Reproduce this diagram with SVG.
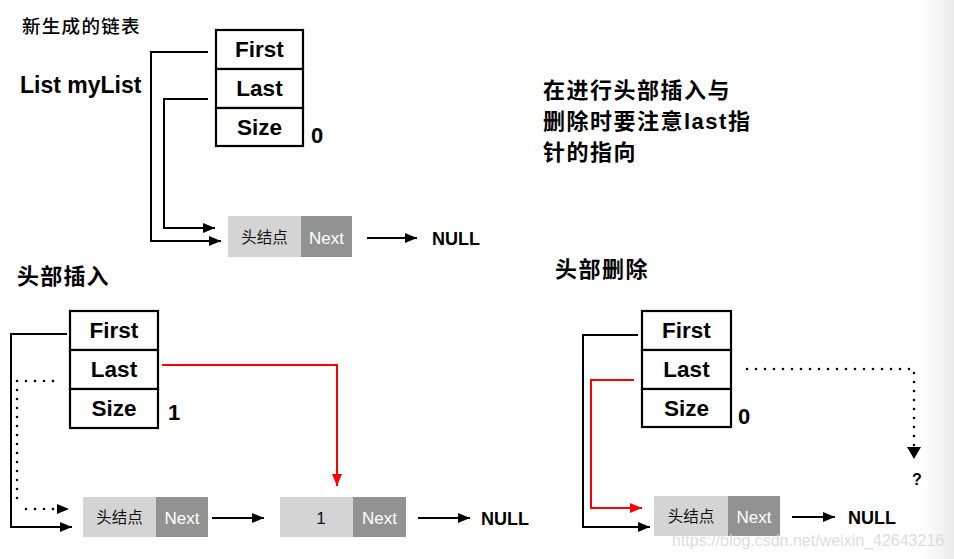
<svg xmlns="http://www.w3.org/2000/svg" width="954" height="559" viewBox="0 0 954 559">
<style>
.bg{fill:#ffffff}
.box{fill:#ffffff;stroke:#000;stroke-width:2.2}
.cell{font-family:"Liberation Sans",Arial,sans-serif;font-weight:bold;font-size:22.5px;fill:#000;text-anchor:middle}
.num{font-family:"Liberation Sans",Arial,sans-serif;font-weight:bold;font-size:22px;fill:#000}
.null{font-family:"Liberation Sans",Arial,sans-serif;font-weight:bold;font-size:18px;fill:#000}
.cjk{font-family:"Liberation Sans","Noto Sans CJK SC",sans-serif;font-weight:bold;fill:#000}
.light{fill:#d4d4d4}
.dark{fill:#929292}
.hd{font-family:"Noto Sans CJK SC","Noto Sans",sans-serif;font-size:15.5px;fill:#111;text-anchor:middle}
.nx{font-family:"Liberation Sans",Arial,sans-serif;font-size:17px;fill:#fff;text-anchor:middle}
.k{fill:none;stroke:#000;stroke-width:2}
.r{fill:none;stroke:#ff0000;stroke-width:2}
.dot{fill:none;stroke:#000;stroke-width:2.6;stroke-linecap:round;stroke-dasharray:0 9}
</style>
<defs>
<marker id="ah" viewBox="0 0 12 10" refX="12" refY="5" markerWidth="12" markerHeight="10" markerUnits="userSpaceOnUse" orient="auto"><path d="M0,0 L12,5 L0,10 Z" fill="#000"/></marker>
<marker id="ahr" viewBox="0 0 12 10" refX="12" refY="5" markerWidth="12" markerHeight="10" markerUnits="userSpaceOnUse" orient="auto"><path d="M0,0 L12,5 L0,10 Z" fill="#ff0000"/></marker>
<linearGradient id="edge" x1="0" y1="0" x2="1" y2="0"><stop offset="0" stop-color="#ffffff"/><stop offset="1" stop-color="#ebebeb"/></linearGradient>
</defs>
<rect class="bg" x="0" y="0" width="954" height="559"/>
<rect x="922" y="0" width="32" height="559" fill="url(#edge)"/>

<g id="labels">
<text x="22" y="33" font-family="Noto Sans CJK SC, sans-serif" font-size="18.5" font-weight="500" fill="#000" letter-spacing="1.3">新生成的链表</text>
<text x="20" y="93" font-family="Liberation Sans, Arial, sans-serif" font-weight="bold" font-size="23" fill="#000">List myList</text>
<text class="cjk" x="543" y="98" font-size="22" letter-spacing="1.5">在进行头部插入与</text>
<text class="cjk" x="543" y="129" font-size="22" letter-spacing="1.5">删除时要注意last指</text>
<text class="cjk" x="543" y="160" font-size="22" letter-spacing="1.5">针的指向</text>
<text class="cjk" x="17" y="284" font-size="22" letter-spacing="1.2">头部插入</text>
<text class="cjk" x="555" y="277" font-size="22" letter-spacing="1.5">头部删除</text>
</g>

<g id="list-top">
<rect class="box" x="216" y="30" width="87" height="39"/>
<rect class="box" x="216" y="69" width="87" height="39"/>
<rect class="box" x="216" y="108" width="87" height="38"/>
<text class="cell" x="259.5" y="57">First</text>
<text class="cell" x="259.5" y="96">Last</text>
<text class="cell" x="259.5" y="135">Size</text>
<text class="num" x="311" y="143">0</text>
</g>

<g id="head-top">
<rect class="light" x="228" y="216" width="73" height="41"/>
<rect class="dark" x="301" y="216" width="51" height="41"/>
<text class="hd" x="264.5" y="243">头结点</text>
<text class="nx" x="326.5" y="244">Next</text>
</g>
<g id="null-top"><text class="null" x="432" y="244.5">NULL</text></g>

<g id="list-ins">
<rect class="box" x="70" y="311" width="88" height="39"/>
<rect class="box" x="70" y="350" width="88" height="39"/>
<rect class="box" x="70" y="389" width="88" height="39"/>
<text class="cell" x="114" y="338">First</text>
<text class="cell" x="114" y="377">Last</text>
<text class="cell" x="114" y="416">Size</text>
<text class="num" x="168" y="419.5">1</text>
</g>
<g id="head-ins">
<rect class="light" x="83" y="497" width="73" height="40"/>
<rect class="dark" x="156" y="497" width="52" height="40"/>
<text class="hd" x="119.5" y="523">头结点</text>
<text class="nx" x="182" y="524">Next</text>
</g>
<g id="node1-ins">
<rect class="light" x="280" y="497" width="73" height="40"/>
<rect class="dark" x="353" y="497" width="53" height="40"/>
<text x="321" y="524" font-family="Liberation Sans, Arial, sans-serif" font-size="17" fill="#111" text-anchor="middle">1</text>
<text class="nx" x="379.5" y="524">Next</text>
</g>
<g id="null-ins"><text class="null" x="481" y="524.5">NULL</text></g>

<g id="list-del">
<rect class="box" x="642" y="311" width="89" height="39"/>
<rect class="box" x="642" y="350" width="89" height="39"/>
<rect class="box" x="642" y="389" width="89" height="38"/>
<text class="cell" x="686.5" y="338">First</text>
<text class="cell" x="686.5" y="377">Last</text>
<text class="cell" x="686.5" y="416">Size</text>
<text class="num" x="738" y="423.5">0</text>
</g>
<g id="head-del">
<rect class="light" x="654" y="496" width="74" height="40"/>
<rect class="dark" x="728" y="496" width="52" height="40"/>
<text class="hd" x="691" y="522">头结点</text>
<text class="nx" x="754" y="523">Next</text>
</g>
<g id="null-del"><text class="null" x="848" y="524">NULL</text></g>
<g id="unknown"><text x="917" y="484.5" font-family="Liberation Sans, Arial, sans-serif" font-weight="bold" font-size="16" fill="#000" text-anchor="middle">?</text></g>

<g id="connectors">
<polyline class="k" points="208,52 151,52 151,241 221,241" marker-end="url(#ah)"/>
<polyline class="k" points="208,99 164,99 164,228 215,228" marker-end="url(#ah)"/>
<line class="k" x1="367" y1="238" x2="417" y2="238" marker-end="url(#ah)"/>

<polyline class="k" points="67,334 11,334 11,527 72,527" marker-end="url(#ah)"/>
<polyline class="dot" points="53,381 17,381 17,500"/>
<polyline class="dot" points="26,509 57,509"/>
<path d="M57,504 L69,509 L57,514 Z" fill="#000"/>
<polyline class="r" points="162,365 337,365 337,486" marker-end="url(#ahr)"/>
<line class="k" x1="212" y1="518" x2="264" y2="518" marker-end="url(#ah)"/>
<line class="k" x1="418" y1="518" x2="470" y2="518" marker-end="url(#ah)"/>

<polyline class="k" points="638,335 583,335 583,527 650,527" marker-end="url(#ah)"/>
<polyline class="r" points="634,380 591,380 591,508 642,508" marker-end="url(#ahr)"/>
<line class="k" x1="792" y1="517" x2="835" y2="517" marker-end="url(#ah)"/>
<polyline class="dot" points="747,369 914,369 914,446"/>
<path d="M907,447 L921,447 L914,459 Z" fill="#000"/>
</g>

<g id="watermark"><text x="672" y="546" font-family="Liberation Sans, Arial, sans-serif" font-size="16" fill="#d6d6d6" fill-opacity="0.85">https://blog.csdn.net/weixin_42643216</text></g>
</svg>
